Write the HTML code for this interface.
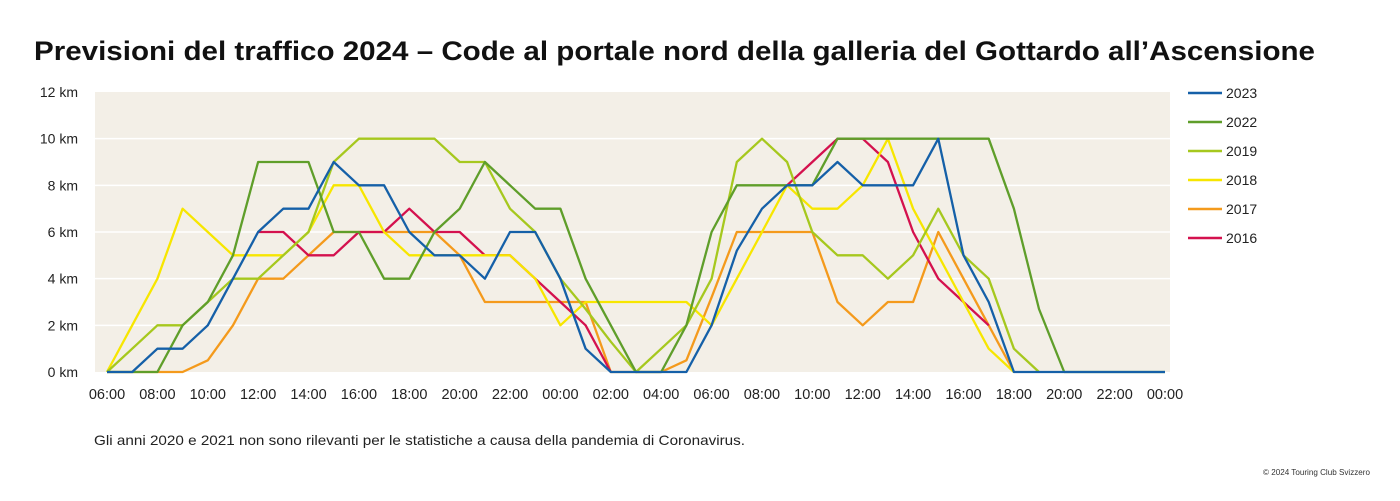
<!DOCTYPE html>
<html><head><meta charset="utf-8"><style>
body{margin:0;background:#fff;width:1400px;height:496px;overflow:hidden;font-family:"Liberation Sans",sans-serif}
</style></head><body>
<svg id="chart" width="1400" height="496" xmlns="http://www.w3.org/2000/svg">
<text x="34" y="60" font-size="27" font-weight="bold" fill="#111" font-family="Liberation Sans, sans-serif" textLength="1281" lengthAdjust="spacingAndGlyphs">Previsioni del traffico 2024 – Code al portale nord della galleria del Gottardo all’Ascensione</text>
<rect x="95" y="92" width="1075" height="280" fill="#f3efe7"/>
<g id="grid"></g><g id="yticks"></g><g id="xticks"></g><g id="series"></g><g id="legend"></g>
<text x="94" y="445" font-size="14" fill="#222" textLength="651" lengthAdjust="spacingAndGlyphs">Gli anni 2020 e 2021 non sono rilevanti per le statistiche a causa della pandemia di Coronavirus.</text>
<text x="1263" y="475" font-size="8" fill="#333" textLength="107" lengthAdjust="spacingAndGlyphs">© 2024 Touring Club Svizzero</text>
</svg>
<script>
const xLabels=["06:00","08:00","10:00","12:00","14:00","16:00","18:00","20:00","22:00","00:00","02:00","04:00","06:00","08:00","10:00","12:00","14:00","16:00","18:00","20:00","22:00","00:00"];
const yTicks=[0,2,4,6,8,10,12];
const seriesNames=["2023","2022","2019","2018","2017","2016"];
const seriesColors=["#1560a8","#5f9e2a","#a6c81e","#f7e600","#f49a1c","#d4114e"];
const v2023=[0,0,1,1,2,4,6,7,7,9,8,8,6,5,5,4,6,6,4,1,0,0,0,0,2,5.2,7,8,8,9,8,8,8,10,5,3,0,0,0,0,0,0,0];
const v2022=[0,0,0,2,3,5,9,9,9,6,6,4,4,6,7,9,8,7,7,4,2,0,0,2,6,8,8,8,8,10,10,10,10,10,10,10,7,2.7,0,0,0,0,0];
const v2019=[0,1,2,2,3,4,4,5,6,9,10,10,10,10,9,9,7,6,4,2.7,1.3,0,1,2,4,9,10,9,6,5,5,4,5,7,5,4,1,0,null,null,null,null,null];
const v2018=[0,2,4,7,6,5,5,5,6,8,8,6,5,5,5,5,5,4,2,3,3,3,3,3,2,4,6,8,7,7,8,10,7,5,3,1,0,null,null,null,null,null,null];
const v2017=[0,0,0,0,0.5,2,4,4,5,6,6,6,6,6,5,3,3,3,3,3,0,0,0,0.5,3.2,6,6,6,6,3,2,3,3,6,4,2,0,null,null,null,null,null,null];
const v2016=[null,null,null,null,null,null,6,6,5,5,6,6,7,6,6,5,5,4,3,2,0,null,null,null,null,null,null,8,9,10,10,9,6,4,3,2,null,null,null,null,null,null,null];
const allSeries=[v2023,v2022,v2019,v2018,v2017,v2016];
const NS="http://www.w3.org/2000/svg";
const x0=107,x1=1165,yTop=92,yBot=372,yMax=12;
function xs(i){return x0+(x1-x0)*i/42;}
function ys(v){return yBot-(yBot-yTop)*v/yMax;}
function mk(t,a,p){const e=document.createElementNS(NS,t);for(const k in a)e.setAttribute(k,a[k]);p.appendChild(e);return e;}
const grid=document.getElementById('grid'),yt=document.getElementById('yticks'),xt=document.getElementById('xticks'),sg=document.getElementById('series'),lg=document.getElementById('legend');
yTicks.forEach(v=>{
 if(v>0&&v<12){const l=mk('line',{x1:95,x2:1170,y1:ys(v),y2:ys(v),stroke:'#fff','stroke-width':1.5},grid);
 
 }
 const t=mk('text',{x:78,y:ys(v)+5,'font-size':14,'text-anchor':'end',fill:'#222'},yt);
 
 
 t.textContent=v+' km';
});
xLabels.forEach((s,k)=>{
 const t=mk('text',{x:xs(k*2),y:399,'font-size':14.5,'text-anchor':'middle',fill:'#222'},xt);
 
 
 t.textContent=s;
});
const order=[4,5,3,2,1,0];
order.forEach(si=>{
 const d=allSeries[si];let path='',pen=false;
 d.forEach((v,i)=>{if(v===null){pen=false;return;}path+=(pen?'L':'M')+xs(i).toFixed(1)+' '+ys(v).toFixed(1)+' ';pen=true;});
 const p=mk('path',{d:path,fill:'none',stroke:seriesColors[si],'stroke-width':2.3,'stroke-linejoin':'round'},sg);
 
 
});
seriesNames.forEach((n,i)=>{
 const y=93+i*29;
 const g=mk('g',{},lg);
 
 
 mk('line',{x1:1188,x2:1222,y1:y,y2:y,stroke:seriesColors[i],'stroke-width':2.5},g);
 const t=mk('text',{x:1226,y:y+5,'font-size':14,fill:'#222'},g);
 t.textContent=n;
});
</script>
</body></html>
